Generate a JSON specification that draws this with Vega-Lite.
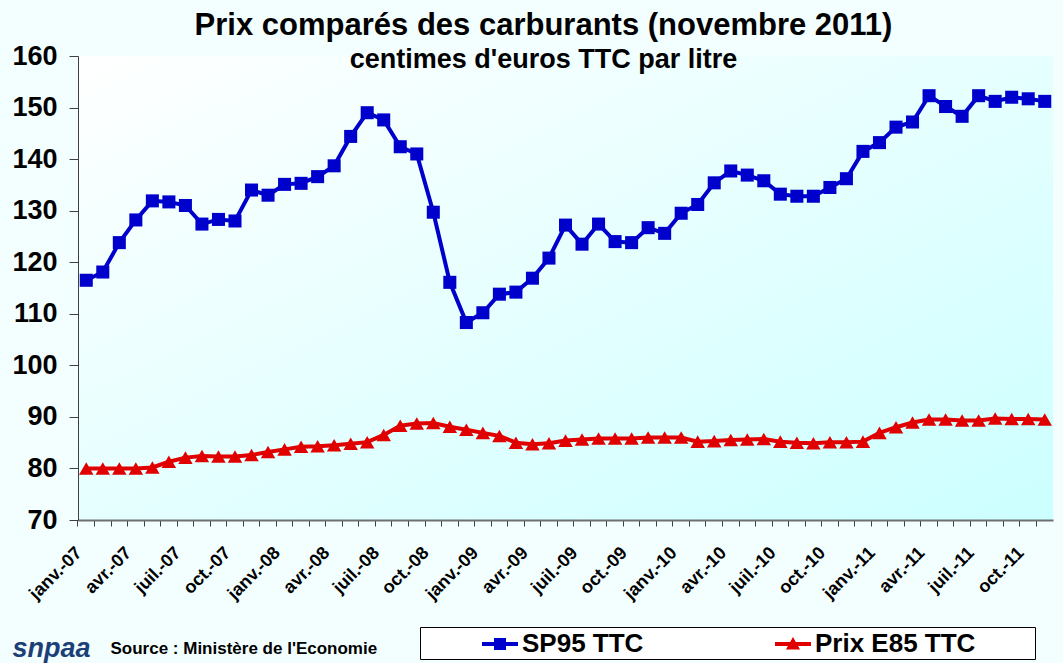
{
  "$schema": "https://vega.github.io/schema/vega-lite/v6.json",
  "width": 975,
  "height": 464,
  "autosize": {"type": "none"},
  "padding": {"left": 78, "top": 56, "right": 10, "bottom": 143},
  "background": "#f3ffff",
  "title": {
    "text": "Prix comparés des carburants (novembre 2011)",
    "subtitle": "centimes d'euros TTC par litre",
    "anchor": "middle",
    "dx": -22,
    "offset": -32,
    "font": "Liberation Sans",
    "fontSize": 31,
    "fontWeight": "bold",
    "color": "black",
    "subtitleFont": "Liberation Sans",
    "subtitleFontSize": 27,
    "subtitleFontWeight": "bold",
    "subtitleColor": "black",
    "subtitlePadding": 5
  },
  "data": {
    "values": [
      {"mois": "janv.-07", "SP95 TTC": 116.5, "Prix E85 TTC": 80.0},
      {"mois": "févr.-07", "SP95 TTC": 118.1, "Prix E85 TTC": 80.0},
      {"mois": "mars-07", "SP95 TTC": 123.8, "Prix E85 TTC": 80.0},
      {"mois": "avr.-07", "SP95 TTC": 128.2, "Prix E85 TTC": 80.0},
      {"mois": "mai-07", "SP95 TTC": 131.9, "Prix E85 TTC": 80.2},
      {"mois": "juin-07", "SP95 TTC": 131.7, "Prix E85 TTC": 81.3},
      {"mois": "juil.-07", "SP95 TTC": 131.0, "Prix E85 TTC": 82.1},
      {"mois": "août-07", "SP95 TTC": 127.4, "Prix E85 TTC": 82.4},
      {"mois": "sept.-07", "SP95 TTC": 128.3, "Prix E85 TTC": 82.3},
      {"mois": "oct.-07", "SP95 TTC": 128.0, "Prix E85 TTC": 82.3},
      {"mois": "nov.-07", "SP95 TTC": 134.0, "Prix E85 TTC": 82.6},
      {"mois": "déc.-07", "SP95 TTC": 133.0, "Prix E85 TTC": 83.2},
      {"mois": "janv.-08", "SP95 TTC": 135.1, "Prix E85 TTC": 83.7},
      {"mois": "févr.-08", "SP95 TTC": 135.3, "Prix E85 TTC": 84.2},
      {"mois": "mars-08", "SP95 TTC": 136.6, "Prix E85 TTC": 84.3},
      {"mois": "avr.-08", "SP95 TTC": 138.7, "Prix E85 TTC": 84.5},
      {"mois": "mai-08", "SP95 TTC": 144.4, "Prix E85 TTC": 84.8},
      {"mois": "juin-08", "SP95 TTC": 149.0, "Prix E85 TTC": 85.1},
      {"mois": "juil.-08", "SP95 TTC": 147.6, "Prix E85 TTC": 86.5},
      {"mois": "août-08", "SP95 TTC": 142.4, "Prix E85 TTC": 88.3},
      {"mois": "sept.-08", "SP95 TTC": 141.0, "Prix E85 TTC": 88.7},
      {"mois": "oct.-08", "SP95 TTC": 129.7, "Prix E85 TTC": 88.8},
      {"mois": "nov.-08", "SP95 TTC": 116.1, "Prix E85 TTC": 88.1},
      {"mois": "déc.-08", "SP95 TTC": 108.3, "Prix E85 TTC": 87.5},
      {"mois": "janv.-09", "SP95 TTC": 110.2, "Prix E85 TTC": 86.9},
      {"mois": "févr.-09", "SP95 TTC": 113.8, "Prix E85 TTC": 86.3},
      {"mois": "mars-09", "SP95 TTC": 114.2, "Prix E85 TTC": 85.0},
      {"mois": "avr.-09", "SP95 TTC": 116.9, "Prix E85 TTC": 84.7},
      {"mois": "mai-09", "SP95 TTC": 120.8, "Prix E85 TTC": 84.9},
      {"mois": "juin-09", "SP95 TTC": 127.2, "Prix E85 TTC": 85.4},
      {"mois": "juil.-09", "SP95 TTC": 123.5, "Prix E85 TTC": 85.6},
      {"mois": "août-09", "SP95 TTC": 127.4, "Prix E85 TTC": 85.8},
      {"mois": "sept.-09", "SP95 TTC": 124.0, "Prix E85 TTC": 85.8},
      {"mois": "oct.-09", "SP95 TTC": 123.8, "Prix E85 TTC": 85.8},
      {"mois": "nov.-09", "SP95 TTC": 126.7, "Prix E85 TTC": 86.0},
      {"mois": "déc.-09", "SP95 TTC": 125.6, "Prix E85 TTC": 86.0},
      {"mois": "janv.-10", "SP95 TTC": 129.5, "Prix E85 TTC": 86.0},
      {"mois": "févr.-10", "SP95 TTC": 131.2, "Prix E85 TTC": 85.2},
      {"mois": "mars-10", "SP95 TTC": 135.4, "Prix E85 TTC": 85.3},
      {"mois": "avr.-10", "SP95 TTC": 137.7, "Prix E85 TTC": 85.5},
      {"mois": "mai-10", "SP95 TTC": 136.9, "Prix E85 TTC": 85.6},
      {"mois": "juin-10", "SP95 TTC": 135.8, "Prix E85 TTC": 85.7},
      {"mois": "juil.-10", "SP95 TTC": 133.2, "Prix E85 TTC": 85.2},
      {"mois": "août-10", "SP95 TTC": 132.8, "Prix E85 TTC": 85.0},
      {"mois": "sept.-10", "SP95 TTC": 132.8, "Prix E85 TTC": 84.9},
      {"mois": "oct.-10", "SP95 TTC": 134.5, "Prix E85 TTC": 85.1},
      {"mois": "nov.-10", "SP95 TTC": 136.2, "Prix E85 TTC": 85.1},
      {"mois": "déc.-10", "SP95 TTC": 141.5, "Prix E85 TTC": 85.2},
      {"mois": "janv.-11", "SP95 TTC": 143.2, "Prix E85 TTC": 86.9},
      {"mois": "févr.-11", "SP95 TTC": 146.2, "Prix E85 TTC": 88.0},
      {"mois": "mars-11", "SP95 TTC": 147.2, "Prix E85 TTC": 88.9},
      {"mois": "avr.-11", "SP95 TTC": 152.3, "Prix E85 TTC": 89.5},
      {"mois": "mai-11", "SP95 TTC": 150.2, "Prix E85 TTC": 89.5},
      {"mois": "juin-11", "SP95 TTC": 148.3, "Prix E85 TTC": 89.3},
      {"mois": "juil.-11", "SP95 TTC": 152.3, "Prix E85 TTC": 89.3},
      {"mois": "août-11", "SP95 TTC": 151.2, "Prix E85 TTC": 89.7},
      {"mois": "sept.-11", "SP95 TTC": 152.0, "Prix E85 TTC": 89.6},
      {"mois": "oct.-11", "SP95 TTC": 151.7, "Prix E85 TTC": 89.6},
      {"mois": "nov.-11", "SP95 TTC": 151.2, "Prix E85 TTC": 89.5}
    ]
  },
  "transform": [
    {"fold": ["SP95 TTC", "Prix E85 TTC"], "as": ["serie", "prix"]}
  ],
  "encoding": {
    "x": {
      "field": "mois",
      "type": "ordinal",
      "sort": null,
      "bandPosition": 0.5,
      "scale": {"type": "band", "paddingInner": 0, "paddingOuter": 0},
      "axis": {
        "title": "Source : Ministère de l'Economie",
        "titleX": 32,
        "titleY": 128,
        "titleAlign": "left",
        "titleBaseline": "middle",
        "titleAngle": 0,
        "titleFont": "Liberation Sans",
        "titleFontSize": 17,
        "titleFontWeight": "bold",
        "titleColor": "black",
        "bandPosition": 0,
        "labelExpr": "indexof(['janv', 'avr.', 'juil', 'oct.'], substring(datum.label, 0, 4)) >= 0 ? datum.label : ''",
        "labelOverlap": false,
        "labelAngle": -45,
        "labelAlign": "right",
        "labelBaseline": "middle",
        "labelFont": "Liberation Sans",
        "labelFontSize": 18,
        "labelFontWeight": "bold",
        "labelColor": "black",
        "labelPadding": 24,
        "labelOffset": -7,
        "tickSize": 6,
        "tickColor": "#404040",
        "domainColor": "#707070",
        "domainWidth": 2,
        "grid": false
      }
    },
    "y": {
      "field": "prix",
      "type": "quantitative",
      "scale": {"domain": [70, 160], "nice": false, "zero": false},
      "axis": {
        "title": "snpaa",
        "titleAngle": 0,
        "titleX": -66,
        "titleY": 592,
        "titleAlign": "left",
        "titleBaseline": "middle",
        "titleFont": "Liberation Sans",
        "titleFontSize": 27,
        "titleFontWeight": "bold",
        "titleFontStyle": "italic",
        "titleColor": "#1d3f78",
        "values": [70, 80, 90, 100, 110, 120, 130, 140, 150, 160],
        "labelFont": "Liberation Sans",
        "labelFontSize": 27,
        "labelFontWeight": "bold",
        "labelColor": "black",
        "labelPadding": 12,
        "tickSize": 9,
        "tickColor": "#404040",
        "domainColor": "#404040",
        "grid": false
      }
    },
    "color": {
      "field": "serie",
      "type": "nominal",
      "scale": {"domain": ["SP95 TTC", "Prix E85 TTC"], "range": ["#0000cc", "#e00000"]},
      "legend": {
        "orient": "none",
        "legendX": 342,
        "legendY": 571,
        "direction": "horizontal",
        "columns": 2,
        "gridAlign": "all",
        "title": " ",
        "titleOrient": "left",
        "titlePadding": 63,
        "titleFontSize": 4,
        "fillColor": "white",
        "strokeColor": "black",
        "padding": 2,
        "labelFont": "Liberation Sans",
        "labelFontSize": 26,
        "labelFontWeight": "bold",
        "labelColor": "black",
        "labelLimit": 600,
        "labelOffset": 7,
        "columnPadding": 35,
        "symbolSize": 900,
        "symbolOpacity": 1,
        "labelExpr": "datum.label + '\u2800\u2800\u2800'",
        "encode": {
          "symbols": {
            "update": {
              "shape": {"signal": "datum.value === 'SP95 TTC' ? 'M-1.2,-0.133H1.2V0.133H-1.2Z M-0.4,-0.4H0.4V0.4H-0.4Z' : 'M-1.2,-0.133H1.2V0.133H-1.2Z M0,-0.47L0.47,0.37H-0.47Z'"},
              "fill": {"signal": "datum.value === 'SP95 TTC' ? '#0000cc' : '#e00000'"},
              "size": {"value": 900},
              "strokeWidth": {"value": 0},
              "opacity": {"value": 1}
            }
          }
        }
      }
    }
  },
  "layer": [
    {"mark": {"type": "line", "strokeWidth": 4}},
    {
      "transform": [{"filter": "datum.serie === 'SP95 TTC'"}],
      "mark": {"type": "point", "filled": true, "opacity": 1, "shape": "square", "size": 170}
    },
    {
      "transform": [{"filter": "datum.serie === 'Prix E85 TTC'"}],
      "mark": {"type": "point", "filled": true, "opacity": 1, "shape": "triangle-up", "size": 210}
    }
  ],
  "config": {
    "font": "Liberation Sans",
    "view": {
      "stroke": null,
      "fill": {
        "gradient": "linear",
        "x1": 0, "y1": 0, "x2": 1, "y2": 1,
        "stops": [
          {"offset": 0, "color": "#ffffff"},
          {"offset": 1, "color": "#ccffff"}
        ]
      }
    }
  }
}
